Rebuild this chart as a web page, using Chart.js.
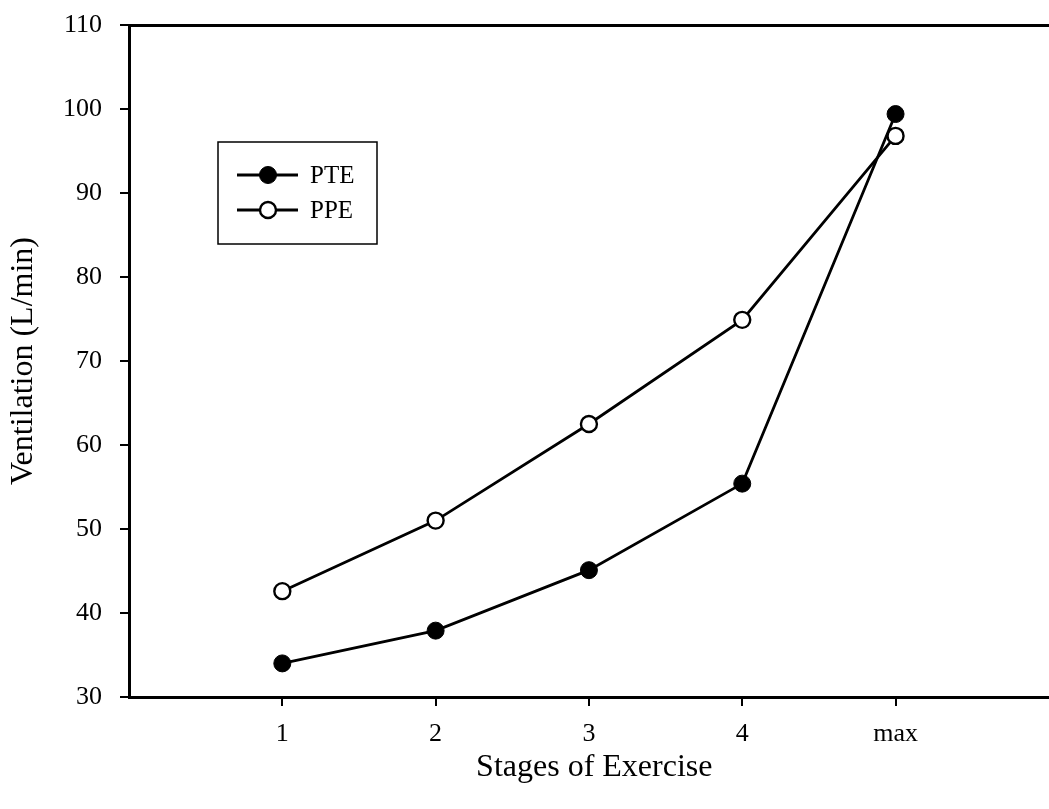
<!DOCTYPE html>
<html>
<head>
<meta charset="utf-8">
<script src="https://cdn.jsdelivr.net/npm/chart.js@4/dist/chart.umd.min.js"></script>
<style>
  html, body { margin: 0; padding: 0; background: #fff; overflow: hidden; }
  #wrap { width: 1070px; height: 809px; }
</style>
</head>
<body>
<div id="wrap"><canvas id="c" width="1070" height="809"></canvas></div>
<script>
// Exercise stages (x positions 1..5) and their tick labels
const stages = [1, 2, 3, 4, 5];
const stageLabels = ['1', '2', '3', '4', 'max'];

// Ventilation (L/min) per stage
const pteValues = [34.0, 37.9, 45.1, 55.4, 99.4];
const ppeValues = [42.6, 51.0, 62.5, 74.9, 96.8];

// Y-axis ticks
const yTicks = [30, 40, 50, 60, 70, 80, 90, 100, 110];

const FONT = "'Liberation Serif', 'Times New Roman', serif";

const toPoints = vals => stages.map((s, i) => ({ x: s, y: vals[i] }));

// Boxed legend drawn inside the plot area
const boxedLegend = {
  id: 'boxedLegend',
  afterDatasetsDraw(chart) {
    const ctx = chart.ctx;
    const box = { x: 218, y: 142, w: 159, h: 102 };
    ctx.save();
    ctx.strokeStyle = '#000';
    ctx.lineWidth = 1.5;
    ctx.strokeRect(box.x, box.y, box.w, box.h);
    chart.data.datasets.forEach((ds, i) => {
      const cy = box.y + 33 + i * 35;
      ctx.beginPath();
      ctx.lineWidth = ds.borderWidth;
      ctx.strokeStyle = ds.borderColor;
      ctx.moveTo(box.x + 19, cy);
      ctx.lineTo(box.x + 80, cy);
      ctx.stroke();
      ctx.beginPath();
      ctx.arc(box.x + 50, cy, ds.pointRadius, 0, Math.PI * 2);
      ctx.fillStyle = ds.pointBackgroundColor;
      ctx.fill();
      ctx.lineWidth = ds.pointBorderWidth;
      ctx.strokeStyle = ds.pointBorderColor;
      ctx.stroke();
      ctx.fillStyle = '#000';
      ctx.font = '25px ' + FONT;
      ctx.textBaseline = 'middle';
      ctx.textAlign = 'left';
      ctx.fillText(ds.label, box.x + 92, cy + 1);
    });
    ctx.restore();
  }
};

new Chart(document.getElementById('c'), {
  type: 'line',
  data: {
    datasets: [
      {
        label: 'PTE',
        data: toPoints(pteValues),
        borderColor: '#000',
        borderWidth: 2.8,
        pointRadius: 8.5,
        pointBackgroundColor: '#000',
        pointBorderColor: '#000',
        pointBorderWidth: 1,
        tension: 0
      },
      {
        label: 'PPE',
        data: toPoints(ppeValues),
        borderColor: '#000',
        borderWidth: 2.8,
        pointRadius: 8,
        pointBackgroundColor: '#fff',
        pointBorderColor: '#000',
        pointBorderWidth: 2.4,
        tension: 0
      }
    ]
  },
  options: {
    responsive: false,
    animation: false,
    layout: { padding: { top: 25, right: 0, bottom: 0, left: 0 } },
    plugins: { legend: { display: false }, tooltip: { enabled: false } },
    scales: {
      x: {
        type: 'linear',
        min: 0,
        max: 6.07,
        afterBuildTicks(scale) { scale.ticks = stages.map(v => ({ value: v })); },
        afterFit(scale) {
          scale.height = 809 - 697;
          scale.paddingLeft = 0;
          scale.paddingRight = 0;
        },
        ticks: {
          color: '#000',
          font: { family: FONT, size: 26 },
          padding: 13,
          maxRotation: 0,
          callback: v => stageLabels[stages.indexOf(v)]
        },
        grid: { drawOnChartArea: false, drawTicks: true, tickLength: 9, color: '#000', lineWidth: 2 },
        border: { display: true, color: '#000', width: 3 },
        title: {
          display: true,
          text: 'Stages of Exercise',
          color: '#000',
          font: { family: FONT, size: 32 },
          padding: { top: 0, bottom: 22 },
          align: 'center'
        }
      },
      xTop: {
        type: 'linear',
        position: 'top',
        min: 0,
        max: 6.07,
        afterFit(scale) {
          scale.height = 0;
          scale.paddingLeft = 0;
          scale.paddingRight = 0;
        },
        ticks: { display: false },
        grid: { display: false },
        border: { display: true, color: '#000', width: 3 }
      },
      y: {
        type: 'linear',
        min: 30,
        max: 110,
        afterBuildTicks(scale) { scale.ticks = yTicks.map(v => ({ value: v })); },
        afterFit(scale) {
          scale.width = 129;
          scale.paddingTop = 0;
          scale.paddingBottom = 0;
        },
        ticks: {
          color: '#000',
          font: { family: FONT, size: 26 },
          padding: 18
        },
        grid: { drawOnChartArea: false, drawTicks: true, tickLength: 9, color: '#000', lineWidth: 2 },
        border: { display: true, color: '#000', width: 3 },
        title: {
          display: true,
          text: 'Ventilation (L/min)',
          color: '#000',
          font: { family: FONT, size: 32 },
          padding: { top: 4, bottom: 0 }
        }
      }
    }
  },
  plugins: [boxedLegend]
});
</script>
</body>
</html>
